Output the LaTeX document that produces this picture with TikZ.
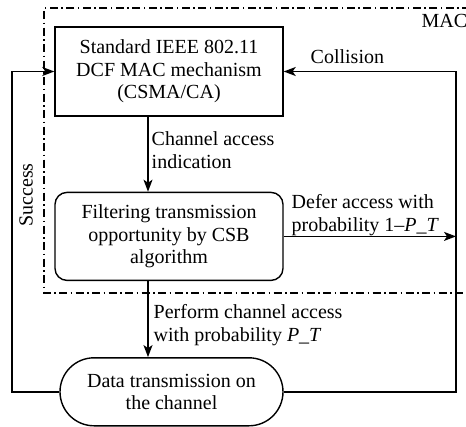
\documentclass[tikz,border=0pt]{standalone}
\usepackage{fontspec}
\setmainfont{Liberation Serif}
\usetikzlibrary{positioning,arrows.meta,shapes.misc}

\begin{document}
\begin{tikzpicture}[
		x=1pt, y=1pt,
		node distance=75pt, % vertical gap between the blocks
		line width=1.4pt,
		>={Stealth[length=12pt,width=9pt,inset=3pt]},
		every node/.style={font=\fontsize{20}{22.5}\selectfont},
		blockbox/.style={draw, minimum width=228pt, minimum height=89pt, align=center, inner sep=2pt},
		filterbox/.style={blockbox, minimum height=88pt, rounded corners=12pt},
		databox/.style={draw, rounded rectangle, minimum width=227pt, minimum height=68pt, align=center, inner sep=2pt},
		lbl/.style={align=left, inner sep=0pt, anchor=north west}
		]
		\useasboundingbox (0,0) rectangle (466,-426);
		\clip (0,0) rectangle (466,-426);
		% Loop lines
		\coordinate (lline) at (12,0);
		\coordinate (rline) at (456,0);
		% MAC layer boundary
		\draw[line width=1.3pt, dash pattern=on 8pt off 3.5pt on 1.5pt off 3.5pt] (470,-8) -| (44,-293) -- (470,-293);
		\node[lbl] (maclbl) at (421,-14) {MAC};
		% Standard DCF
		\node[blockbox] (dcf) at (169,-71.5) {Standard IEEE 802.11\\DCF MAC mechanism\\(CSMA/CA)};
		% CSB filter
		\node[filterbox, below=of dcf] (csb) {Filtering transmission\\opportunity by CSB\\algorithm};
		% Data transmission
		\node[databox, below=76pt of csb, xshift=2.5pt] (data) {Data transmission on\\the channel};
		
		% Arrows
		\draw[->] ([xshift=-21pt]dcf.south) -- ([xshift=-21pt]dcf.south |- csb.north);
		\draw[->] ([xshift=-21pt]csb.south) -- ([xshift=-21pt]csb.south |- data.north);
		\draw[->] (csb.east) -- (csb.east -| rline);
		\draw[->] (data.west) -- (data.west -| lline) |- (dcf.west);
		\draw[->] (data.east) -- (data.east -| rline) |- (dcf.east);
		
		% Labels
		\node[lbl] (collbl) at (310,-49) {Collision};
		\node[lbl] (chlbl) at (151,-131) {Channel access\\indication};
		\node[lbl] (deflbl) at (291,-194) {Defer access with\\probability 1--\textit{P\_T}};
		\node[lbl] (perflbl) at (153,-304) {Perform channel access\\with probability \textit{P\_T}};
		\node[rotate=90] (suclbl) at (26,-195) {Success};
	\end{tikzpicture}
\end{document}
